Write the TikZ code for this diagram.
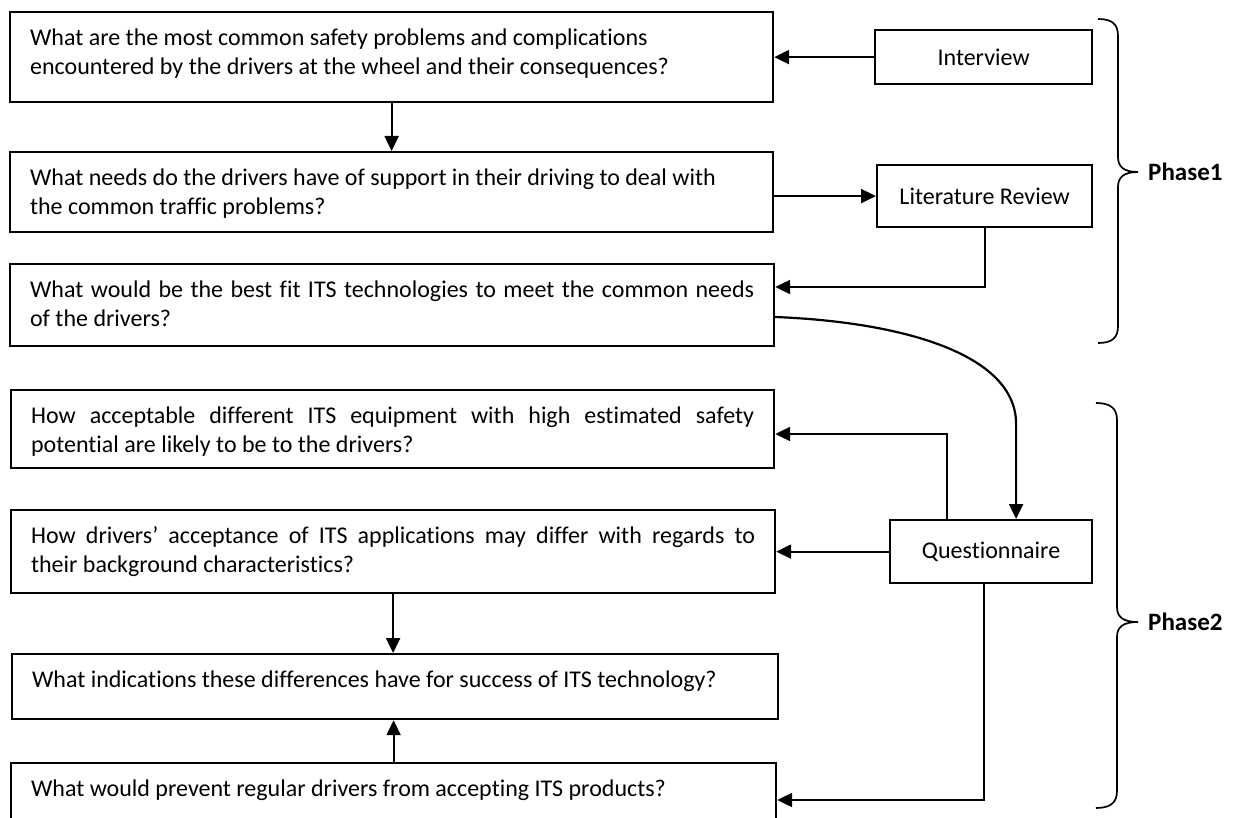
\documentclass[tikz,border=0pt]{standalone}
\usepackage{fontspec}
\setmainfont{Carlito}[Ligatures={NoCommon}]
\usetikzlibrary{arrows.meta,calc}
\tikzset{
  qbox/.style={draw, line width=2.2pt, anchor=north west, inner xsep=20pt, inner ysep=0pt, align=left},
  mbox/.style={draw, line width=2.2pt, anchor=north west, inner sep=0pt, align=center},
  conn/.style={line width=2.2pt, -{Triangle[length=15pt,width=14pt]}},
  bracepath/.style={line width=1.7pt},
  phase/.style={font=\fontsize{25}{30}\selectfont\bfseries, anchor=west, inner sep=0pt},
}
\newcommand{\qtx}[3]{\parbox[c][#2pt][t]{#1pt}{\rule{0pt}{33pt}#3}}
\newcommand{\jl}[1]{\makebox[\linewidth][s]{#1}}
\begin{document}
\begin{tikzpicture}[x=1pt,y=-1pt,font=\fontsize{24}{29}\selectfont]
\useasboundingbox (0,0) rectangle (1235,818);
\clip (0,0) rectangle (1235,818);

% question boxes (text width = box width - 40)
\node[qbox] (b1) at (9,11) {\qtx{723}{90}{What are the most common safety problems and complications\\encountered by the drivers at the wheel and their consequences?}};
\node[qbox] (b2) at (9,151) {\qtx{723}{80}{What needs do the drivers have of support in their driving to deal with\\the common traffic problems?}};
\node[qbox] (b3) at (9,263) {\qtx{724}{82}{\jl{What would be the best fit ITS technologies to meet the common needs}\\of the drivers?}};
\node[qbox] (b4) at (10,389) {\qtx{723}{78}{\jl{How acceptable different ITS equipment with high estimated safety}\\potential are likely to be to the drivers?}};
\node[qbox] (b5) at (10,509) {\qtx{724}{83}{\jl{How drivers’ acceptance of ITS applications may differ with regards to}\\their background characteristics?}};
\node[qbox] (b6) at (11,653) {\qtx{726}{65}{What indications these differences have for success of ITS technology?}};
\node[qbox] (b7) at (10,762) {\qtx{725}{68}{What would prevent regular drivers from accepting ITS products?}};

% method boxes
\node[mbox, minimum width=217pt, minimum height=54pt] (int) at (874,29) {Interview};
\node[mbox, minimum width=215pt, minimum height=62pt] (lit) at (876,164) {Literature Review};
\node[mbox, minimum width=202pt, minimum height=63pt] (q) at (889,519) {Questionnaire};

% connectors
\draw[conn] (int.west) -- (int.west -| b1.east);
\draw[conn] (b1.south) -- (b2.north);
\draw[conn] (b2.east |- lit.west) -- (lit.west);
\coordinate (b3in) at ([yshift=-24pt]b3.north east);
\draw[conn] (lit.south) |- (b3in);
\coordinate (cs) at ([yshift=-54pt]b3.north east);
\coordinate (ce) at ([xshift=25pt]q.north);
\draw[conn] (cs) .. controls ($(cs)+(127,5)$) and ($(ce)+(0,-165)$) .. ($(ce)+(0,-95)$) -- (ce);
\draw[conn] ([xshift=-44pt]q.north) |- ([yshift=-45pt]b4.north east);
\draw[conn] (q.west) -- (q.west -| b5.east);
\draw[conn] ([xshift=-7pt]q.south) |- ([yshift=-38pt]b7.north east);
\draw[conn] (b5.south) -- (b5.south |- b6.north);
\draw[conn] (b7.north) -- (b7.north |- b6.south);

% braces
\draw[bracepath] (1098,19) .. controls (1112,19) and (1118,24) .. (1118,36) -- (1118,157)
  .. controls (1118,167) and (1124,172) .. (1138,172)
  .. controls (1124,172) and (1118,177) .. (1118,187) -- (1118,326)
  .. controls (1118,338) and (1112,343) .. (1098,343);
\draw[bracepath] (1096,403) .. controls (1110,403) and (1117,408) .. (1117,420) -- (1117,607)
  .. controls (1117,617) and (1123,622) .. (1138,622)
  .. controls (1123,622) and (1117,627) .. (1117,637) -- (1117,791)
  .. controls (1117,803) and (1110,808) .. (1096,808);
\node[phase] (p1) at (1148,172) {Phase1};
\node[phase] (p2) at (1148,622) {Phase2};
\end{tikzpicture}
\end{document}
